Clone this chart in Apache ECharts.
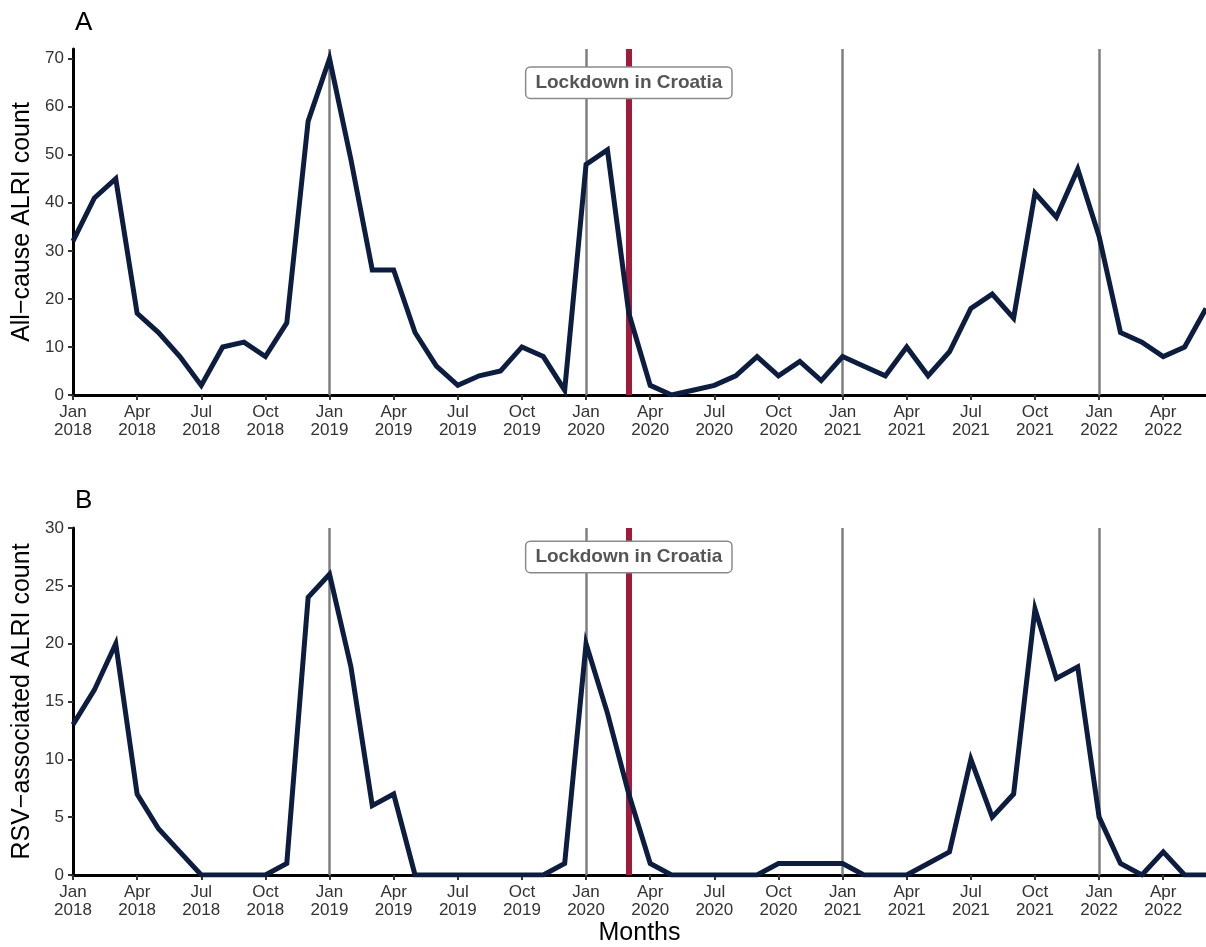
<!DOCTYPE html>
<html>
<head>
<meta charset="utf-8">
<script src="https://cdn.jsdelivr.net/npm/echarts@6/dist/echarts.min.js"></script>
<style>
  html, body { margin: 0; padding: 0; background: #fff; }
  #main { width: 1206px; height: 947px; }
</style>
</head>
<body>
<div id="main"></div>
<script>
// monthly points, Jan 2018 - Jun 2022
const months = [];
for (let y = 2018; y <= 2022; y++) {
    for (let m = 1; m <= 12; m++) {
        if (y === 2022 && m > 6) break;
        months.push(y + '-' + String(m).padStart(2, '0'));
    }
}
const monthNames = ['Jan', 'Feb', 'Mar', 'Apr', 'May', 'Jun', 'Jul', 'Aug', 'Sep', 'Oct', 'Nov', 'Dec'];

const allCause = [
    32, 41, 45, 17, 13, 8, 2, 10, 11, 8, 15, 57,
    70, 49, 26, 26, 13, 6, 2, 4, 5, 10, 8, 1,
    48, 51, 17, 2, 0, 1, 2, 4, 8, 4, 7, 3,
    8, 6, 4, 10, 4, 9, 18, 21, 16, 42, 37, 47,
    33, 13, 11, 8, 10, 18
];
const rsv = [
    13, 16, 20, 7, 4, 2, 0, 0, 0, 0, 1, 24,
    26, 18, 6, 7, 0, 0, 0, 0, 0, 0, 0, 1,
    20, 14, 7, 1, 0, 0, 0, 0, 0, 1, 1, 1,
    1, 0, 0, 0, 1, 2, 10, 5, 7, 23, 17, 18,
    5, 1, 0, 2, 0, 0
];

const yearStarts = ['2019-01', '2020-01', '2021-01', '2022-01'];
const lockdown = '2020-03';
const lockdownText = 'Lockdown in Croatia';

const NAVY = '#0d1d3f';
const TXT = '#333';

const chart = echarts.init(document.getElementById('main'));

function xAxisFor(gridIndex) {
    return {
        type: 'category',
        gridIndex,
        data: months,
        boundaryGap: false,
        name: gridIndex === 1 ? 'Months' : '',
        nameLocation: 'middle',
        nameGap: 46,
        nameTextStyle: { fontSize: 25, color: '#000', fontFamily: 'Liberation Sans' },
        axisLine: { lineStyle: { color: '#000', width: 3 } },
        axisTick: { interval: 2, length: 5, lineStyle: { color: '#333', width: 2 } },
        axisLabel: {
            interval: 2,
            margin: 8,
            fontSize: 17,
            lineHeight: 18,
            color: TXT,
            fontFamily: 'Liberation Sans',
            formatter: v => monthNames[+v.slice(5) - 1] + '\n' + v.slice(0, 4)
        },
        splitLine: { show: false }
    };
}

function yAxisFor(gridIndex, name, max, interval) {
    const vals = [];
    for (let v = 0; v <= max; v += interval) vals.push(v);
    return {
        type: 'value',
        gridIndex,
        min: 0,
        max,
        name,
        nameLocation: 'middle',
        nameGap: 37,
        nameTextStyle: { fontSize: 25, color: '#000', fontFamily: 'Liberation Sans' },
        axisLine: { show: true, lineStyle: { color: '#000', width: 3 } },
        axisTick: { show: true, length: 5, customValues: vals, lineStyle: { color: '#333', width: 2 } },
        axisLabel: { margin: 9, fontSize: 17, color: TXT, fontFamily: 'Liberation Sans', customValues: vals },
        splitLine: { show: false }
    };
}

function refLines(i) {
    return {
        type: 'line', xAxisIndex: i, yAxisIndex: i, data: [], z: 1, silent: true,
        markLine: {
            symbol: 'none', silent: true, animation: false,
            label: { show: false },
            data: yearStarts.map(m => ({ xAxis: m, lineStyle: { color: '#7f7f7f', width: 2.5, type: 'solid' } }))
                .concat([{ xAxis: lockdown, lineStyle: { color: '#a01c3c', width: 6, type: 'solid' } }])
        }
    };
}

function lockdownLabel(i, yVal) {
    return {
        type: 'line', xAxisIndex: i, yAxisIndex: i, data: [], z: 10, silent: true,
        markPoint: {
            symbol: 'rect', symbolSize: 0, silent: true, animation: false,
            data: [{ coord: [lockdown, yVal] }],
            label: {
                show: true,
                position: 'inside',
                formatter: lockdownText,
                fontSize: 19,
                fontWeight: 'bold',
                color: '#555',
                fontFamily: 'Liberation Sans',
                backgroundColor: '#fff',
                borderColor: '#8a8a8a',
                borderWidth: 1.5,
                borderRadius: 4,
                padding: [6, 9, 5, 9]
            }
        }
    };
}

function dataSeries(i, values) {
    return {
        type: 'line', xAxisIndex: i, yAxisIndex: i, data: values, z: 5,
        symbol: 'none', animation: false,
        lineStyle: { color: NAVY, width: 5, join: 'miter' }
    };
}

chart.setOption({
    backgroundColor: '#fff',
    animation: false,
    grid: [
        { left: 73, right: -2, top: 49, height: 346 },
        { left: 73, right: -2, top: 528, height: 347 }
    ],
    graphic: [
        { type: 'text', left: 75, top: 10, style: { text: 'A', fontSize: 26, fill: '#000', fontFamily: 'Liberation Sans' } },
        { type: 'text', left: 75, top: 488, style: { text: 'B', fontSize: 26, fill: '#000', fontFamily: 'Liberation Sans' } }
    ],
    xAxis: [xAxisFor(0), xAxisFor(1)],
    yAxis: [
        yAxisFor(0, 'All\u2212cause ALRI count', 72, 10),
        yAxisFor(1, 'RSV\u2212associated ALRI count', 30, 5)
    ],
    series: [
        refLines(0), refLines(1),
        dataSeries(0, allCause), dataSeries(1, rsv),
        lockdownLabel(0, 65), lockdownLabel(1, 27.5)
    ]
});
</script>
</body>
</html>
